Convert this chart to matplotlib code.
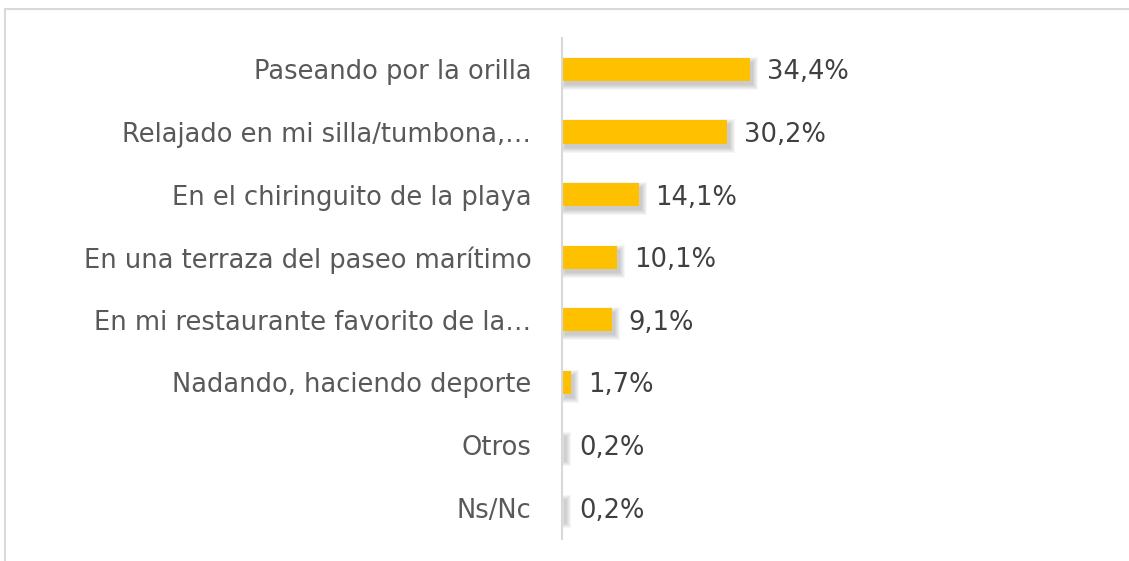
import matplotlib.pyplot as plt
from matplotlib.lines import Line2D
from matplotlib.patches import Rectangle

# datos
categorias = [
    "Paseando por la orilla",
    "Relajado en mi silla/tumbona,…",
    "En el chiringuito de la playa",
    "En una terraza del paseo marítimo",
    "En mi restaurante favorito de la…",
    "Nadando, haciendo deporte",
    "Otros",
    "Ns/Nc",
]
valores = [34.4, 30.2, 14.1, 10.1, 9.1, 1.7, 0.2, 0.2]
etiquetas = ["34,4%", "30,2%", "14,1%", "10,1%", "9,1%", "1,7%", "0,2%", "0,2%"]

plt.rcParams['font.family'] = ['DejaVu Sans']
W, H = 1129, 561
fig = plt.figure(figsize=(W / 100, H / 100), dpi=100)

# ejes en pixeles: izquierda 562, arriba 38, abajo 539
ax = fig.add_axes([562 / W, 1 - 539 / H, 550 / W, 501 / H])
ax.set_ylim(7.5, -0.5)
ax.set_xlim(0, 100.5)
bar_h = 0.37
px_x = 100.5 / 550   # unidades x por pixel
px_y = 8 / 501       # unidades y por pixel

pos = list(range(len(categorias)))
# sombra difusa abajo-derecha
for i, v in zip(pos, valores):
    for e in [0, 1, 2, 3, 4, 5]:
        ax.add_patch(Rectangle((3 * px_x - e * px_x, i - bar_h / 2 + 4 * px_y - e * px_y),
                               v + 2 * e * px_x, bar_h + 2 * e * px_y,
                               facecolor='#000000', alpha=0.035, lw=0, zorder=1))
ax.barh(pos, valores, height=bar_h, color='#FFC000', zorder=3)

for i, (v, t) in enumerate(zip(valores, etiquetas)):
    ax.text(v + 3.0, i, t, va='center_baseline', ha='left', fontsize=18.5, color='#404040')

ax.set_yticks(pos)
ax.set_yticklabels(categorias, fontsize=18.5, color='#595959', va='center_baseline')
ax.tick_params(axis='y', length=0, pad=22)
ax.set_xticks([])
for s in ['top', 'right', 'bottom']:
    ax.spines[s].set_visible(False)
ax.spines['left'].set_color('#d9d9d9')
ax.spines['left'].set_linewidth(1.5)
ax.spines['left'].set_zorder(4)

# marco del grafico
fig.add_artist(Line2D([4.5 / W, 4.5 / W], [0, 1 - 9 / H], color='#d9d9d9', lw=1.5))
fig.add_artist(Line2D([4.5 / W, 1], [1 - 9 / H, 1 - 9 / H], color='#d9d9d9', lw=1.5))

fig.savefig('out.png', dpi=100)
